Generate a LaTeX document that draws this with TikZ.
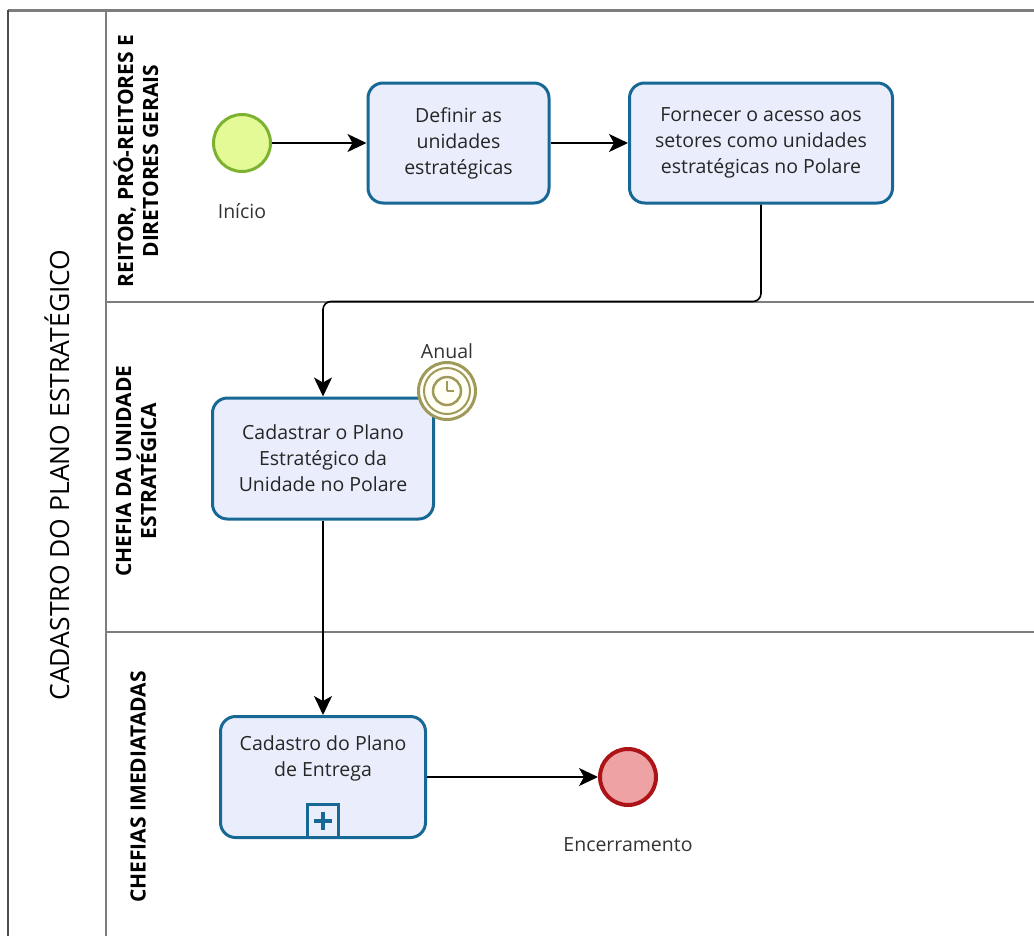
\documentclass[tikz,border=0pt]{standalone}
\usepackage{fontspec}
\setmainfont{Open Sans}
\newfontfamily\lanefont{Open Sans}
\usetikzlibrary{arrows.meta}
\usetikzlibrary{positioning}
\definecolor{taskfill}{RGB}{234,238,252}
\definecolor{taskline}{RGB}{24,104,150}
\definecolor{startfill}{RGB}{228,250,150}
\definecolor{startline}{RGB}{124,178,48}
\definecolor{endfill}{RGB}{238,162,164}
\definecolor{endline}{RGB}{172,20,24}
\definecolor{timerline}{RGB}{160,154,90}
\definecolor{timerfill}{RGB}{255,255,246}
\definecolor{laneline}{RGB}{125,125,125}
\definecolor{labeltext}{RGB}{51,51,51}
\tikzset{
  task/.style={draw=taskline, fill=taskfill, line width=3pt, rounded corners=15pt,
    align=center, text=black!85, font=\fontsize{19.5}{26}\selectfont, inner sep=0pt},
  tasktext/.style={align=center, text=black!85, font=\fontsize{19.5}{26}\selectfont},
  startev/.style={circle, draw=startline, fill=startfill, line width=3pt, minimum size=57pt, inner sep=0pt},
  endev/.style={circle, draw=endline, fill=endfill, line width=4pt, minimum size=56pt, inner sep=0pt},
  timerev/.style={circle, draw=timerline, fill=timerfill, line width=3pt, minimum size=57pt, inner sep=0pt},
  submark/.style={draw=taskline, fill=taskfill, line width=3pt, minimum width=31pt, minimum height=33pt, inner sep=0pt},
  evlabel/.style={text=labeltext, font=\fontsize{19.5}{22}\selectfont},
  lanelabel/.style={rotate=90, align=center, font=\lanefont\bfseries\fontsize{21}{25}\selectfont},
  flow/.style={draw=black, line width=1.6pt, -{Stealth[length=19pt,width=18pt,inset=5pt]}},
}
\newcommand{\laneline}[1]{\draw[laneline, line width=2pt] (106,#1) -- (1040,#1);}

\begin{document}
\begin{tikzpicture}[x=1pt,y=-1pt]
\useasboundingbox (0,0) rectangle (1034,935);
\clip (0,0) rectangle (1034,935);
% pool and lanes
\draw[laneline, line width=3pt] (8,10) -- (1040,10);
\draw[black!70, line width=2pt] (8,10) -- (8,945);
\draw[laneline, line width=2pt] (106,10) -- (106,945);
\laneline{302}
\laneline{632}
% pool and lane labels
\node[rotate=90, font=\fontsize{26.5}{30}\selectfont] (pooltitle) at (57,475) {CADASTRO DO PLANO ESTRATÉGICO};
\node[lanelabel] (lane1) at (136,161) {REITOR, PRÓ-REITORES E\\DIRETORES GERAIS};
\node[lanelabel] (lane2) at (136,471) {CHEFIA DA UNIDADE\\ESTRATÉGICA};
\node[lanelabel] (lane3) at (138,787) {CHEFIAS IMEDIATADAS};
% lane 1
\node[startev] (inicio) at (242,143) {};
\node[evlabel, below=27pt of inicio] (inicio lbl) {Início};
\node[task, minimum width=181pt, minimum height=120pt] (definir) at (458.5,143) {Definir as\\unidades\\estratégicas};
\node[task, minimum width=263pt, minimum height=120pt] (fornecer) at (761,143) {Fornecer o acesso aos\\setores como unidades\\estratégicas no Polare};
% lane 2
\node[task, minimum width=221pt, minimum height=121pt] (cadastrar) at (323,458.5) {Cadastrar o Plano\\Estratégico da\\Unidade no Polare};
\node[timerev] (anual) at (447,391) {};
\draw[timerline, line width=2pt] (anual.center) circle (23pt);
\draw[timerline, line width=2.5pt] (anual.center) circle (14pt);
\draw[timerline, line width=2pt] (anual.center) -- ++(0,-10) (anual.center) -- ++(7,0);
\node[evlabel, above=-1pt of anual] (anual lbl) {Anual};
% lane 3
\node[task, minimum width=205pt, minimum height=121pt,
  label={[tasktext, name=entrega txt, yshift=19pt]center:Cadastro do Plano\\de Entrega}] (entrega) at (323,777) {};
\node[submark, anchor=south] (entrega plus) at (entrega.south) {};
\draw[taskline, line width=4.5pt] (entrega plus.center) ++(-9,0) -- ++(18,0)
  (entrega plus.center) ++(0,-9) -- ++(0,18);
\node[endev] (fim) at (628,777) {};
\node[evlabel, below=27pt of fim] (fim lbl) {Encerramento};
% sequence flows
\draw[flow] (inicio) -- (definir);
\draw[flow] (definir) -- (fornecer);
\draw[flow, rounded corners=8pt] (fornecer.south) -- ++(0,97) -| (cadastrar.north);
\draw[flow] (cadastrar) -- (entrega);
\draw[flow] (entrega) -- (fim);
\end{tikzpicture}
\end{document}
